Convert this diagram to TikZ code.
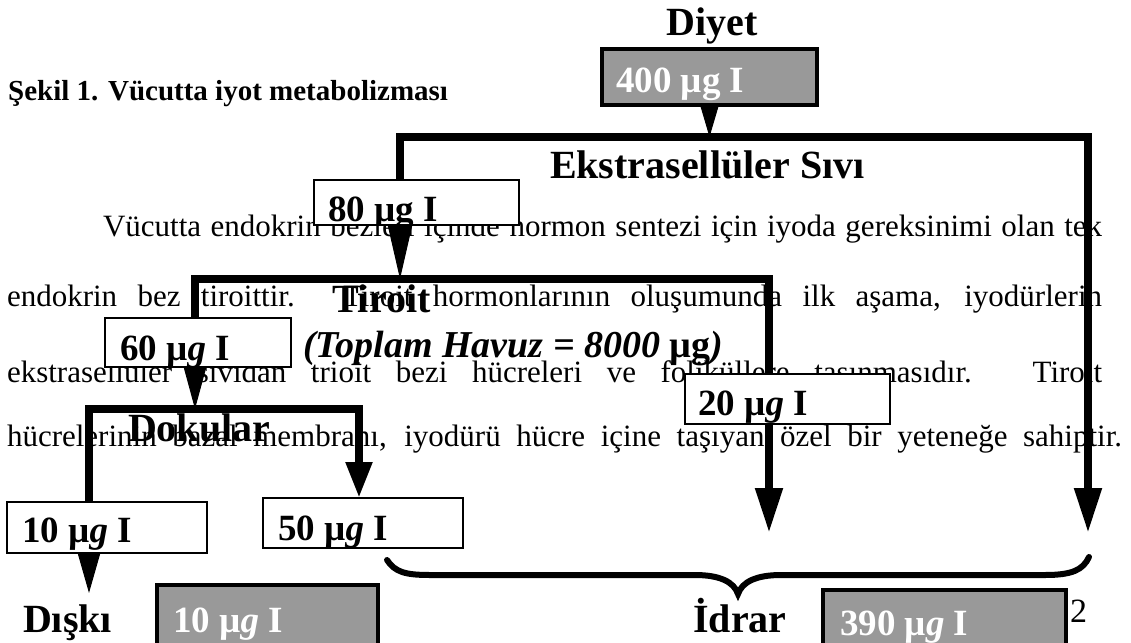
\documentclass[tikz,border=0pt]{standalone}
\usepackage{fontspec}
\setmainfont{Liberation Serif}
\usetikzlibrary{arrows.meta,fit}
\definecolor{boxgray}{HTML}{999999}
\pgfdeclarelayer{txtlayer}
\pgfdeclarelayer{flowlayer}
\pgfsetlayers{txtlayer,flowlayer,main}
\tikzset{
  body/.style={inner sep=0pt, outer sep=0pt, anchor=base west, font=\fontsize{31}{37}\selectfont},
  big/.style={inner sep=0pt, outer sep=0pt, font=\fontsize{40}{48}\selectfont\bfseries},
  lbl/.style={inner sep=0pt, outer sep=0pt, anchor=base west, font=\fontsize{37}{44}\selectfont\bfseries},
  wbox/.style={draw=black, line width=2pt, fill=white, inner sep=0pt, outer sep=0pt},
  gbox/.style={draw=black, line width=4.5pt, fill=boxgray, inner sep=0pt, outer sep=0pt},
  flow/.style={line width=8pt, line join=miter, draw=black},
  flowtip/.style n args={2}{-{Triangle[length=#1pt,width=#2pt]}},
  ptr/.style n args={2}{line width=1pt, draw=black, -{Triangle[length=#1pt,width=#2pt]}},
  bracepath/.style={line width=6pt, draw=black, line cap=round}
}
\newcommand\qbox[9]{%
  \node[#2, fit={(#3,#4) (#5,#6)}] (#1) {};
  \begin{scope}
    \clip (#3,#4) rectangle (#5,#6);
    \node[lbl] (#1t) at (#7,#8) {#9};
  \end{scope}%
}
\begin{document}
\begin{tikzpicture}[x=1pt,y=-1pt]
\useasboundingbox (0,0) rectangle (1131,642);
\begin{pgfonlayer}{txtlayer}
\fill[white] (0,0) rectangle (1131,642);
\node[body] (l1) at (103,236) {\makebox[999pt][s]{Vücutta endokrin bezleri içinde hormon sentezi için iyoda gereksinimi olan tek}};
\node[body] (l2) at (7,306) {\makebox[1095pt][s]{endokrin bez tiroittir. Tiroit hormonlarının oluşumunda ilk aşama, iyodürlerin}};
\node[body] (l3) at (7,382) {\makebox[1095pt][s]{ekstrasellüler sıvıdan trioit bezi hücreleri ve foliküllere taşınmasıdır. Tiroit}};
\node[body] (l4) at (7,446) {\makebox[1115pt][s]{hücrelerinin bazal membranı, iyodürü hücre içine taşıyan özel bir yeteneğe sahiptir.}};
\node[body] (pg) at (1053,622) {\fontsize{34}{40}\selectfont 12};
\end{pgfonlayer}

\node[inner sep=0pt, anchor=base west, font=\fontsize{29}{35}\selectfont\bfseries] (title) at (8,100) {Şekil 1. Vücutta iyot metabolizması};

\qbox{b400}{gbox}{602}{49}{817}{105}{616}{92}{\color{white}400 µg I}
\qbox{b80}{wbox}{314}{180}{519}{225}{328}{221}{80 µg I}
\qbox{b60}{wbox}{105}{318}{291}{367}{120}{360}{60 µ\textit{g} I}
\qbox{b20}{wbox}{685}{374}{890}{424}{698}{415}{20 µ\textit{g} I}
\qbox{b10}{wbox}{7}{502}{207}{553}{22}{542}{10 µ\textit{g} I}
\qbox{b50}{wbox}{263}{498}{463}{548}{278}{540}{50 µ\textit{g} I}
\qbox{bd}{gbox}{157}{585}{378}{665}{173}{632}{\color{white}10 µ\textit{g} I}
\qbox{bu}{gbox}{823}{590}{1066}{665}{840}{635}{\color{white}390 µ\textit{g} I}

\node[big, anchor=base] (diyet) at (712,36) {Diyet};
\node[big, anchor=base west] (ekst) at (550,178) {Ekstrasellüler Sıvı};
\node[big, anchor=base west] (tiroit) at (332,312) {Tiroit};
\node[inner sep=0pt, anchor=base west, font=\fontsize{38}{46}\selectfont\bfseries\itshape] (havuz) at (303,357) {(Toplam Havuz = 8000 \textup{µg})};
\node[big, anchor=base west] (dok) at (128,441) {Dokular};
\node[big, anchor=base west] (diski) at (23,632) {Dışkı};
\node[big, anchor=base] (idrar) at (740,632) {İdrar};

\coordinate (ekL) at (400,137);
\coordinate (ekR) at (1088,137);
\coordinate (ekA) at (1088,533);
\coordinate (tiL) at (195,279);
\coordinate (tiR) at (769,279);
\coordinate (tiA) at (769,533);
\coordinate (doL) at (89,409);
\coordinate (doR) at (359,409);
\coordinate (dkA) at (89,593);
\coordinate (bL) at (387,560);
\coordinate (bT) at (738,594);
\coordinate (bR) at (1089,557);

\begin{pgfonlayer}{flowlayer}
\draw[flow, flowtip={45}{26}] (b80.north -| ekL) -- (ekL) -- (ekR) -- (ekA);
\draw[flow, flowtip={45}{26}] (b60.north -| tiL) -- (tiL) -- (tiR) -- (tiA);
\draw[flow, flowtip={36}{25}] (b10.north -| doL) -- (doL) -- (doR) -- (b50.north -| doR);
\draw[bracepath] (bL) .. controls (395,572) and (405,575) .. (430,575) -- (695,575) .. controls (720,575) and (734,582) .. (bT) .. controls (742,582) and (756,575) .. (781,575) -- (1045,575) .. controls (1072,575) and (1083,570) .. (bR);
\end{pgfonlayer}

\draw[ptr={31}{18}] (b400.south) -- (b400.south |- ekL);
\draw[ptr={53}{24}] (b80.south -| ekL) -- (ekL |- tiL);
\draw[ptr={41}{22}] (b60.south -| tiL) -- (tiL |- doL);
\draw[ptr={39}{22}] (b10.south -| doL) -- (dkA);
\end{tikzpicture}
\end{document}
